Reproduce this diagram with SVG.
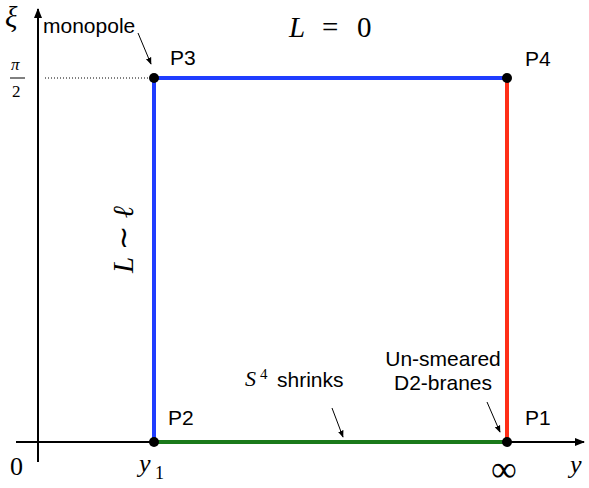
<svg xmlns="http://www.w3.org/2000/svg" width="589" height="488" viewBox="0 0 589 488">
<style>
.lbl{font-family:"Liberation Sans",Arial,sans-serif;font-size:21px;fill:#000}
.math{font-family:"Liberation Serif","Times New Roman",serif;fill:#000}
.it{font-style:italic}
.ax{stroke:#000;stroke-width:2;fill:none}
.thin{stroke:#000;stroke-width:1;fill:none}
.dot{fill:#000}
</style>
<defs>
<marker id="big" viewBox="0 0 10 10" refX="9" refY="5" markerWidth="10" markerHeight="10" markerUnits="userSpaceOnUse" orient="auto">
<path d="M0,1 L10,5 L0,9 Z" fill="#000"/>
</marker>
<marker id="small" viewBox="0 0 10 10" refX="9" refY="5" markerWidth="7" markerHeight="7" markerUnits="userSpaceOnUse" orient="auto">
<path d="M0,1 L10,5 L0,9 Z" fill="#000"/>
</marker>
</defs>
<rect width="589" height="488" fill="#fff"/>
<g id="axes">
<line class="ax" x1="38" y1="462" x2="38" y2="9" marker-end="url(#big)"/>
<line class="ax" x1="16" y1="442" x2="584" y2="442" marker-end="url(#big)"/>
<line x1="45" y1="78" x2="150" y2="78" stroke="#000" stroke-width="1" stroke-dasharray="1,2"/>
<text class="math it" x="5" y="27" font-size="29">ξ</text>
<text class="math it" x="11" y="70" font-size="17">π</text>
<line x1="10" y1="78" x2="25" y2="78" stroke="#000" stroke-width="1"/>
<text class="math" x="12" y="97" font-size="17">2</text>
<text class="math" x="10" y="475" font-size="26">0</text>
<text class="math it" x="139" y="472" font-size="26">y</text>
<text class="math" x="155" y="479" font-size="18">1</text>
<text class="math" x="491" y="481" font-size="36">∞</text>
<text class="math it" x="570" y="473" font-size="26">y</text>
</g>
<g id="connectors">
<line x1="154" y1="78" x2="154" y2="442" stroke="#1f3dff" stroke-width="4"/>
<line x1="154" y1="78" x2="507" y2="78" stroke="#1f3dff" stroke-width="4"/>
<line x1="507" y1="78" x2="507" y2="442" stroke="#ff2e17" stroke-width="4"/>
<line x1="154" y1="442" x2="507" y2="442" stroke="#1a7a1a" stroke-width="4"/>
<line class="thin" x1="138" y1="33" x2="151" y2="64" marker-end="url(#small)"/>
<line class="thin" x1="332" y1="408" x2="343" y2="437" marker-end="url(#small)"/>
<line class="thin" x1="487" y1="402" x2="500" y2="432" marker-end="url(#small)"/>
</g>
<g id="P1"><circle class="dot" cx="507" cy="442" r="5"/><text class="lbl" x="525" y="425">P1</text></g>
<g id="P2"><circle class="dot" cx="154" cy="442" r="5"/><text class="lbl" x="168" y="425">P2</text></g>
<g id="P3"><circle class="dot" cx="154" cy="78" r="5"/><text class="lbl" x="170" y="65">P3</text></g>
<g id="P4"><circle class="dot" cx="507" cy="78" r="5"/><text class="lbl" x="525" y="66">P4</text></g>
<g id="labels">
<text class="lbl" x="43" y="33">monopole</text>
<text class="math" y="37" font-size="29"><tspan class="it" x="289">L</tspan><tspan x="322">=</tspan><tspan x="357">0</tspan></text>
<text class="math" transform="translate(133,273) rotate(-90)" font-size="29"><tspan class="it">L</tspan> ∼ <tspan class="it">ℓ</tspan></text>
<text class="math it" x="245" y="386" font-size="22">S</text>
<text class="math" x="260" y="379" font-size="15">4</text>
<text class="lbl" x="277" y="387">shrinks</text>
<text class="lbl" x="443" y="366" text-anchor="middle">Un-smeared</text>
<text class="lbl" x="443" y="390" text-anchor="middle">D2-branes</text>
</g>
</svg>
